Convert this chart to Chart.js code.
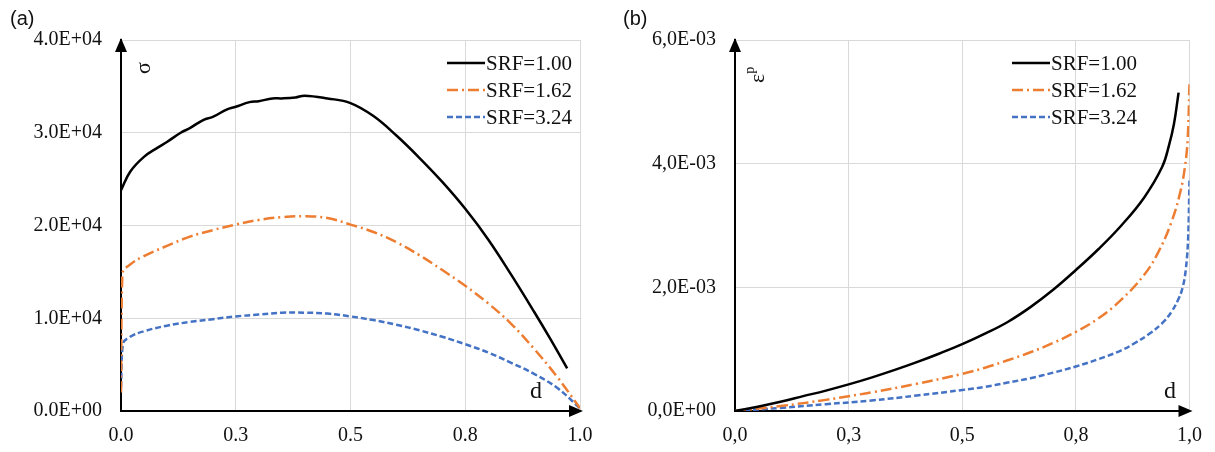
<!DOCTYPE html>
<html>
<head>
<meta charset="utf-8">
<script src="https://cdn.jsdelivr.net/npm/chart.js"></script>
<style>
  body { margin: 0; background: #fff; }
  #wrap { position: relative; width: 1215px; height: 452px; }
  .box { position: absolute; top: 0; height: 452px; }
  #boxA { left: 0; width: 607px; }
  #boxB { left: 607px; width: 608px; }
</style>
</head>
<body>
<div id="wrap">
  <div class="box" id="boxA"><canvas id="chartA"></canvas></div>
  <div class="box" id="boxB"><canvas id="chartB"></canvas></div>
</div>
<script>
// etiquetas de las series
const seriesLabels = ['SRF=1.00', 'SRF=1.62', 'SRF=3.24'];

// ticks
const xTicksA = ['0.0', '0.3', '0.5', '0.8', '1.0'];
const yTicksA = ['0.0E+00', '1.0E+04', '2.0E+04', '3.0E+04', '4.0E+04'];
const xTicksB = ['0,0', '0,3', '0,5', '0,8', '1,0'];
const yTicksB = ['0,0E+00', '2,0E-03', '4,0E-03', '6,0E-03'];

// (a) sigma vs d, valores en 1E+04
const dA1 = [0, 0.02, 0.05, 0.08, 0.1, 0.13, 0.15, 0.18, 0.2, 0.23, 0.25, 0.28, 0.3, 0.33, 0.35, 0.38, 0.4, 0.45, 0.5, 0.55, 0.6, 0.65, 0.7, 0.75, 0.8, 0.85, 0.9, 0.935, 0.972];
const sA1 = [2.38, 2.58, 2.74, 2.84, 2.9, 3.0, 3.05, 3.14, 3.17, 3.25, 3.28, 3.33, 3.34, 3.37, 3.37, 3.38, 3.4, 3.37, 3.32, 3.18, 2.97, 2.73, 2.47, 2.18, 1.85, 1.47, 1.07, 0.78, 0.46];
const dA2 = [0, 0.003, 0.02, 0.05, 0.1, 0.15, 0.2, 0.25, 0.3, 0.35, 0.4, 0.45, 0.5, 0.55, 0.6, 0.65, 0.7, 0.75, 0.8, 0.85, 0.9, 0.95, 1.0];
const sA2 = [0.2, 1.48, 1.58, 1.67, 1.78, 1.88, 1.95, 2.01, 2.06, 2.09, 2.1, 2.08, 2.01, 1.93, 1.82, 1.68, 1.52, 1.35, 1.16, 0.94, 0.67, 0.37, 0.03];
const dA3 = [0, 0.004, 0.02, 0.05, 0.1, 0.15, 0.2, 0.25, 0.3, 0.35, 0.4, 0.45, 0.5, 0.55, 0.6, 0.65, 0.7, 0.75, 0.8, 0.85, 0.9, 0.95, 1.0];
const sA3 = [0.25, 0.72, 0.8, 0.86, 0.92, 0.96, 0.99, 1.02, 1.04, 1.06, 1.06, 1.05, 1.02, 0.98, 0.93, 0.87, 0.8, 0.72, 0.63, 0.52, 0.4, 0.25, 0.03];

// (b) eps_p vs d, valores en 1E-03
const dB1 = [0, 0.05, 0.1, 0.15, 0.2, 0.25, 0.3, 0.35, 0.4, 0.45, 0.5, 0.55, 0.6, 0.65, 0.7, 0.75, 0.8, 0.85, 0.9, 0.94, 0.955, 0.966, 0.976];
const eB1 = [0, 0.07, 0.15, 0.24, 0.33, 0.43, 0.54, 0.66, 0.79, 0.93, 1.08, 1.25, 1.44, 1.68, 1.96, 2.28, 2.62, 3.0, 3.45, 3.95, 4.3, 4.65, 5.15];
const dB2 = [0, 0.1, 0.2, 0.25, 0.3, 0.4, 0.5, 0.55, 0.6, 0.65, 0.7, 0.75, 0.8, 0.85, 0.9, 0.93, 0.96, 0.98, 0.99, 0.996, 1.0];
const eB2 = [0, 0.08, 0.18, 0.24, 0.3, 0.44, 0.6, 0.7, 0.82, 0.95, 1.1, 1.28, 1.5, 1.8, 2.2, 2.55, 3.05, 3.55, 3.95, 4.4, 5.3];
const dB3 = [0, 0.1, 0.2, 0.3, 0.4, 0.5, 0.55, 0.6, 0.65, 0.7, 0.75, 0.8, 0.85, 0.88, 0.91, 0.94, 0.96, 0.975, 0.985, 0.992, 0.997, 1.0];
const eB3 = [0, 0.05, 0.11, 0.17, 0.25, 0.34, 0.39, 0.46, 0.53, 0.62, 0.72, 0.84, 0.98, 1.1, 1.24, 1.42, 1.6, 1.8, 2.0, 2.3, 2.8, 3.75];

const colors = ['#000000', '#ED7D31', '#4472C4'];
const dashes = [[], [11, 4, 2, 4], [6, 3]];
const serif = 'Liberation Serif';

function toPoints(xs, ys, unit) {
  return xs.map((x, i) => ({ x: x, y: ys[i] * unit }));
}

function makeDatasets(pairs, unit) {
  return pairs.map((p, i) => ({
    label: seriesLabels[i],
    data: toPoints(p[0], p[1], unit),
    borderColor: colors[i],
    borderWidth: 2.5,
    borderDash: dashes[i],
    pointRadius: 0,
    fill: false,
    tension: 0.4
  }));
}

// flechas, titulos de ejes y leyenda
const decor = {
  id: 'decor',
  afterDraw(chart, args, opts) {
    const ctx = chart.ctx;
    const a = chart.chartArea;
    ctx.save();

    // flechas
    ctx.fillStyle = '#000';
    ctx.beginPath();
    ctx.moveTo(a.left, a.top - 2);
    ctx.lineTo(a.left - 6, a.top + 12);
    ctx.lineTo(a.left + 6, a.top + 12);
    ctx.closePath();
    ctx.fill();
    ctx.beginPath();
    ctx.moveTo(a.right + 3, a.bottom);
    ctx.lineTo(a.right - 11, a.bottom - 6);
    ctx.lineTo(a.right - 11, a.bottom + 6);
    ctx.closePath();
    ctx.fill();

    // (a) / (b)
    ctx.fillStyle = '#111';
    ctx.font = '20px "Liberation Sans"';
    ctx.textBaseline = 'middle';
    ctx.textAlign = 'left';
    ctx.fillText(opts.tag, opts.tagX, 19);

    // d
    ctx.font = '24px "' + serif + '"';
    ctx.textAlign = 'center';
    ctx.fillText('d', opts.dX, 392);

    // titulo eje y, rotado
    ctx.save();
    ctx.translate(opts.yTitleX, opts.yTitleY);
    ctx.rotate(-Math.PI / 2);
    ctx.font = '22px "' + serif + '"';
    ctx.textAlign = 'left';
    ctx.fillText(opts.yTitle, 0, 0);
    if (opts.yTitleSup) {
      const w = ctx.measureText(opts.yTitle).width;
      ctx.font = '14px "' + serif + '"';
      ctx.fillText(opts.yTitleSup, w, -8);
    }
    ctx.restore();

    // leyenda
    ctx.font = '21px "' + serif + '"';
    ctx.textAlign = 'left';
    chart.data.datasets.forEach((ds, i) => {
      const y = opts.legY + i * 27;
      ctx.strokeStyle = ds.borderColor;
      ctx.lineWidth = 2.5;
      ctx.setLineDash(ds.borderDash);
      ctx.beginPath();
      ctx.moveTo(opts.legX, y);
      ctx.lineTo(opts.legX + 38, y);
      ctx.stroke();
      ctx.setLineDash([]);
      ctx.fillStyle = '#111';
      ctx.fillText(ds.label, opts.legX + 39, y + 1);
    });
    ctx.restore();
  }
};

function makeOptions(xTicks, yTicks, yMax, yStep, yWidth, padRight, deco) {
  const tickFont = { family: serif, size: 20 };
  return {
    responsive: true,
    maintainAspectRatio: false,
    animation: false,
    layout: { padding: { top: 40, right: padRight, left: 0, bottom: 0 } },
    plugins: { legend: { display: false }, tooltip: { enabled: false }, decor: deco },
    scales: {
      x: {
        type: 'linear', min: 0, max: 1,
        ticks: { stepSize: 0.25, callback: (v, i) => xTicks[i], font: tickFont, color: '#111', padding: 13, maxRotation: 0 },
        grid: { color: '#d9d9d9', lineWidth: 1, drawTicks: false },
        border: { color: '#000', width: 2 },
        afterFit: (s) => { s.height = 41; }
      },
      y: {
        min: 0, max: yMax,
        ticks: { stepSize: yStep, callback: (v, i) => yTicks[i], font: tickFont, color: '#111', padding: 19 },
        grid: { color: '#d9d9d9', lineWidth: 1, drawTicks: false },
        border: { color: '#000', width: 2 },
        afterFit: (s) => { s.width = yWidth; }
      }
    }
  };
}

new Chart(document.getElementById('chartA'), {
  type: 'line',
  data: { datasets: makeDatasets([[dA1, sA1], [dA2, sA2], [dA3, sA3]], 1e4) },
  options: makeOptions(xTicksA, yTicksA, 4e4, 1e4, 121, 27,
    { tag: '(a)', tagX: 10, dX: 536, yTitle: 'σ', yTitleSup: '', yTitleX: 144, yTitleY: 74, legX: 447, legY: 63 }),
  plugins: [decor]
});

new Chart(document.getElementById('chartB'), {
  type: 'line',
  data: { datasets: makeDatasets([[dB1, eB1], [dB2, eB2], [dB3, eB3]], 1e-3) },
  options: makeOptions(xTicksB, yTicksB, 6e-3, 2e-3, 128, 25,
    { tag: '(b)', tagX: 16, dX: 563, yTitle: 'ε', yTitleSup: 'p', yTitleX: 151, yTitleY: 83, legX: 405, legY: 63 }),
  plugins: [decor]
});
</script>
</body>
</html>
